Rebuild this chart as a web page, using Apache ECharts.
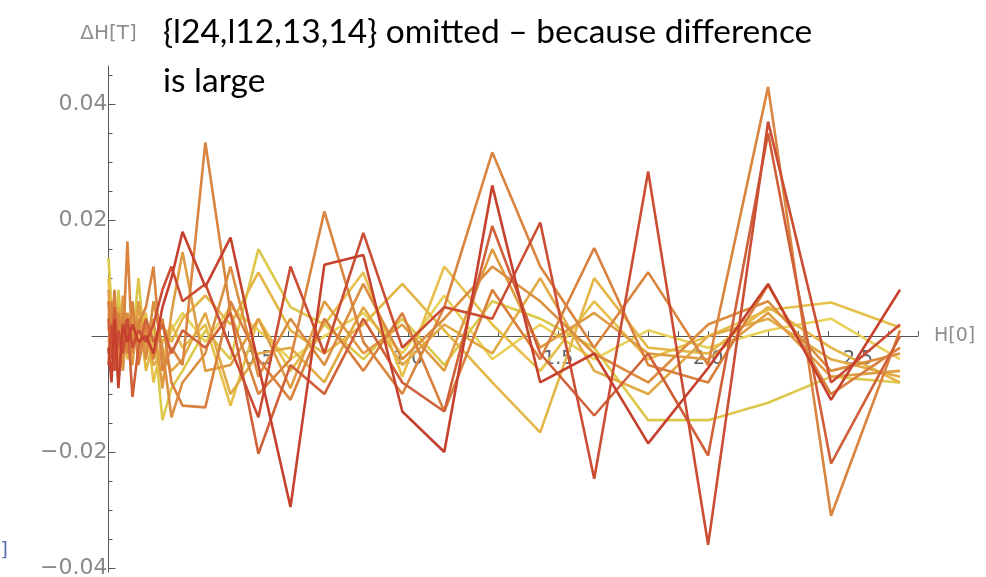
<!DOCTYPE html>
<html>
<head>
<meta charset="utf-8">
<script src="https://cdn.jsdelivr.net/npm/echarts@6/dist/echarts.min.js"></script>
<style>
  html, body { margin: 0; padding: 0; background: #ffffff; }
  #chart { width: 986px; height: 577px; }
</style>
</head>
<body>
<div id="chart"></div>
<script>
// H[0] sample positions shared by every curve
const hGrid = [0, 0.01, 0.02, 0.033, 0.048, 0.063, 0.08, 0.1, 0.125, 0.15, 0.18, 0.21, 0.247, 0.323,
  0.407, 0.5, 0.607, 0.72, 0.85, 0.98, 1.12, 1.28, 1.44, 1.62, 1.8, 2.0, 2.2, 2.41, 2.64];

// ΔH[T] per curve, ordered from the lightest (yellow) to the darkest (red)
const dH01 = [0.006, -0.002, 0.003, -0.001, 0.002, -0.003, 0.003, -0.001, 0.002, -0.002, -0.004, 0.001, 0.004, -0.001,
  0.005, 0.001, -0.004, 0.000, 0.004, -0.003, 0.007, -0.004, 0.002, -0.004, 0.001, -0.002, 0.001, 0.003, -0.004];
const dH02 = [0.0135, 0.005, -0.003, 0.008, -0.002, 0.004, -0.001, 0.010, -0.004, 0.002, -0.0145, -0.009, -0.006, 0.001,
  -0.004, 0.015, 0.005, 0.002, -0.004, 0.003, -0.005, 0.006, 0.003, -0.002, -0.0145, -0.0145, -0.0115, -0.007, -0.008];
const dH03 = [0.010, 0.002, -0.002, 0.003, -0.004, 0.001, -0.002, 0.000, 0.004, -0.008, -0.001, 0.002, -0.002, 0.002,
  -0.012, 0.003, -0.006, 0.002, 0.011, -0.007, 0.012, 0.002, -0.006, 0.006, -0.004, 0.000, 0.0045, 0.0058, 0.0015];
const dH04 = [0.004, -0.003, 0.001, -0.001, 0.003, -0.004, 0.001, 0.005, -0.006, -0.001, 0.002, -0.001, 0.003, 0.007,
  0.002, 0.011, 0.001, -0.003, 0.002, 0.009, 0.001, -0.008, -0.0166, 0.010, -0.002, -0.003, 0.005, -0.002, -0.008];
const dH05 = [-0.001, 0.002, -0.004, 0.005, -0.001, 0.002, 0.004, -0.003, 0.001, -0.005, -0.003, -0.006, -0.004, 0.004,
  -0.010, -0.003, -0.002, -0.008, 0.005, -0.005, 0.002, -0.003, 0.010, -0.006, -0.010, 0.000, 0.003, -0.004, -0.007];
const dH06 = [0.008, -0.001, 0.004, -0.003, 0.007, 0.000, -0.005, 0.006, -0.002, 0.003, -0.009, 0.004, 0.0145, -0.006,
  -0.005, 0.003, -0.009, 0.006, -0.003, 0.002, -0.006, 0.015, -0.002, 0.004, -0.003, -0.004, 0.004, -0.007, -0.006];
const dH07 = [-0.003, 0.003, -0.001, 0.002, -0.006, 0.004, -0.001, 0.003, -0.004, 0.006, -0.002, -0.014, -0.008, -0.003,
  0.012, -0.007, 0.003, -0.005, 0.009, -0.004, 0.003, 0.012, 0.006, -0.003, -0.008, 0.002, 0.006, -0.006, -0.003];
const dH08 = [0.006, -0.002, 0.008, -0.005, 0.004, -0.003, 0.006, -0.005, 0.002, -0.004, 0.003, -0.008, -0.012, -0.0123,
  0.006, -0.004, -0.011, 0.003, -0.006, 0.004, -0.013, 0.008, -0.004, 0.0152, -0.005, -0.008, 0.0088, -0.010, -0.002];
const dH09 = [0.001, 0.006, -0.003, 0.004, -0.002, 0.0163, -0.003, 0.002, 0.005, 0.012, -0.006, -0.002, -0.005, 0.0334,
  0.004, -0.010, -0.004, 0.0215, -0.001, -0.010, 0.005, 0.0317, 0.012, -0.002, 0.011, -0.005, 0.043, -0.031, 0.001];
const dH10 = [0.003, -0.004, 0.005, -0.002, 0.001, 0.003, -0.0105, -0.002, 0.003, -0.001, 0.002, -0.003, 0.001, -0.002,
  0.004, -0.0203, -0.005, -0.010, 0.003, -0.008, -0.013, 0.019, -0.003, -0.0137, -0.003, -0.0206, 0.035, -0.022, 0.000];
const dH11 = [-0.005, 0.002, -0.006, 0.001, -0.003, 0.003, -0.002, 0.001, -0.001, 0.002, 0.008, 0.012, 0.006, 0.009,
  -0.002, -0.014, 0.012, -0.003, 0.0178, -0.002, 0.005, 0.003, 0.0196, -0.0246, 0.0284, -0.036, 0.037, -0.008, 0.002];
const dH12 = [-0.002, -0.008, 0.003, -0.009, 0.002, -0.001, 0.002, -0.001, 0.000, -0.003, 0.005, 0.010, 0.018, 0.0085,
  0.017, -0.005, -0.0295, 0.0123, 0.014, -0.013, -0.020, 0.026, -0.008, -0.003, -0.0185, -0.0055, 0.009, -0.011, 0.008];

const curves = [dH01, dH02, dH03, dH04, dH05, dH06, dH07, dH08, dH09, dH10, dH11, dH12];
const curveColors = ['#e8d25a', '#dcc84a', '#e6c04a', '#e4b646', '#e2aa44', '#df9c42',
  '#dc8e40', '#d9803e', '#d9843f', '#d0603a', '#cb4e34', '#c6402e'];

// axis ticks and labels
const xTickValues = [0.1, 0.2, 0.3, 0.4, 0.5, 0.6, 0.7, 0.8, 0.9, 1.0, 1.1, 1.2, 1.3, 1.4, 1.5,
  1.6, 1.7, 1.8, 1.9, 2.0, 2.1, 2.2, 2.3, 2.4, 2.5, 2.6, 2.7];
const xLabelValues = [0.5, 1.0, 1.5, 2.0, 2.5];
const yMajorTicks = [-0.04, -0.02, 0.02, 0.04];
const yMinorTicks = [-0.035, -0.03, -0.025, -0.015, -0.01, -0.005, 0.005, 0.01, 0.015,
  0.025, 0.03, 0.035, 0.045];

const titleLine1 = '{l24,l12,13,14} omitted – because difference';
const titleLine2 = 'is large';

// plot frame
const W = 986, H = 577;
const gridBox = { left: 92, right: 68, top: 66, bottom: 5 };
const xMin = -0.055, xMax = 2.7;
const yMin = -0.0407, yMax = 0.0466;
const gridW = W - gridBox.left - gridBox.right;
const gridH = H - gridBox.top - gridBox.bottom;
// the axes cross at the origin: shift each one from the frame edge to the zero of the other
const xAxisShift = -((0 - yMin) / (yMax - yMin)) * gridH;
const yAxisShift = -((0 - xMin) / (xMax - xMin)) * gridW;

const axisColor = '#555555';
const tickFont = 'DejaVu Sans, sans-serif';

const chart = echarts.init(document.getElementById('chart'), null, { renderer: 'canvas' });

const yCommon = {
  type: 'value',
  position: 'left',
  min: yMin,
  max: yMax,
  offset: yAxisShift,
  splitLine: { show: false }
};

chart.setOption({
  animation: false,
  backgroundColor: '#ffffff',
  grid: Object.assign({ containLabel: false, outerBoundsMode: 'none' }, gridBox),
  xAxis: {
    type: 'value',
    position: 'bottom',
    min: xMin,
    max: xMax,
    offset: xAxisShift,
    name: 'H[0]',
    nameLocation: 'end',
    nameGap: 16,
    nameTextStyle: { color: '#8f8f8f', fontFamily: tickFont, fontSize: 19, verticalAlign: 'middle' },
    splitLine: { show: false },
    axisLine: { onZero: false, lineStyle: { color: axisColor, width: 1 } },
    axisTick: { inside: true, length: 5, customValues: xTickValues, lineStyle: { color: axisColor } },
    axisLabel: {
      customValues: xLabelValues,
      margin: 13,
      color: '#5a6068',
      fontFamily: tickFont,
      fontSize: 19,
      formatter: v => v.toFixed(1)
    }
  },
  yAxis: [
    Object.assign({}, yCommon, {
      name: 'ΔH[T]',
      nameLocation: 'end',
      nameGap: 22,
      nameTextStyle: { color: '#8f8f8f', fontFamily: tickFont, fontSize: 20, align: 'center' },
      axisLine: { onZero: false, lineStyle: { color: axisColor, width: 1 } },
      axisTick: { inside: true, length: 7, customValues: yMajorTicks, lineStyle: { color: axisColor } },
      axisLabel: {
        customValues: yMajorTicks,
        margin: 1,
        color: '#8a8a8a',
        fontFamily: tickFont,
        fontSize: 22,
        formatter: v => v.toFixed(2).replace('-', '−')
      }
    }),
    Object.assign({}, yCommon, {
      axisLine: { show: false, onZero: false },
      axisTick: { inside: true, length: 4, customValues: yMinorTicks, lineStyle: { color: axisColor } },
      axisLabel: { show: false }
    })
  ],
  series: curves.map((vals, i) => ({
    type: 'line',
    xAxisIndex: 0,
    yAxisIndex: 0,
    data: hGrid.map((h, k) => [h, vals[k]]),
    showSymbol: false,
    symbol: 'none',
    smooth: false,
    lineStyle: { color: curveColors[i], width: 2.6 },
    itemStyle: { color: curveColors[i] },
    z: 2 + i
  })),
  graphic: [
    {
      type: 'text', left: 163, top: 15, z: 100,
      style: { text: titleLine1, fill: '#000000', font: '33.5px Lato, sans-serif' }
    },
    {
      type: 'text', left: 163, top: 64, z: 100,
      style: { text: titleLine2, fill: '#000000', font: '33.5px Lato, sans-serif' }
    },
    {
      type: 'text', right: 978, top: 542, z: 100,
      style: { text: 'H[0]', fill: '#5a6fb0', font: '19px DejaVu Sans, sans-serif' }
    }
  ]
});
</script>
</body>
</html>
